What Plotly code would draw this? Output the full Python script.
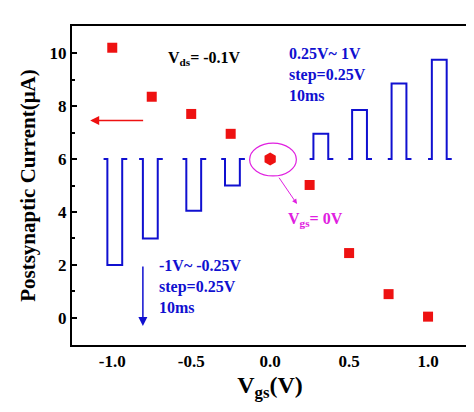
import plotly.graph_objects as go

vgs = [-1.0, -0.75, -0.5, -0.25, 0.25, 0.5, 0.75, 1.0]
current = [10.2, 8.35, 7.7, 6.95, 5.02, 2.45, 0.9, 0.05]
vgs0 = [0.0]
current0 = [6.0]

baseline = 6.0
pulse_starts = [-1.055, -0.83, -0.555, -0.31, 0.25, 0.495, 0.745, 1.0]
pulse_levels = [2.0, 3.0, 4.05, 5.0, 6.95, 7.85, 8.85, 9.75]
lead, width, total = 0.024, 0.094, 0.15

font = "Liberation Serif"
fig = go.Figure()
for s, lv in zip(pulse_starts, pulse_levels):
    xs = [s, s + lead, s + lead, s + lead + width, s + lead + width, s + total]
    ys = [baseline, baseline, lv, lv, baseline, baseline]
    fig.add_trace(go.Scatter(x=xs, y=ys, mode="lines", line=dict(color="#1010d0", width=2),
                             showlegend=False, hoverinfo="skip"))
fig.add_trace(go.Scatter(x=vgs, y=current, mode="markers",
                         marker=dict(symbol="square", size=10, color="#ee1111"), showlegend=False))
fig.add_trace(go.Scatter(x=vgs0, y=current0, mode="markers",
                         marker=dict(symbol="hexagon", size=13, color="#ee1111"), showlegend=False))

fig.add_shape(type="circle", x0=-0.13, x1=0.166, y0=5.36, y1=6.6, line=dict(color="#e020e0", width=1.2))

fig.add_annotation(x=-0.415, y=9.8, text="<b>V<sub>ds</sub>= -0.1V</b>", showarrow=False,
                   font=dict(family=font, size=16, color="black"))
fig.add_annotation(x=0.105, y=9.2, text="<b>0.25V~ 1V<br>step=0.25V<br>10ms</b>", showarrow=False,
                   xanchor="left", align="left", font=dict(family=font, size=16, color="#1010d0"))
fig.add_annotation(x=-0.715, y=1.2, text="<b>-1V~ -0.25V<br>step=0.25V<br>10ms</b>", showarrow=False,
                   xanchor="left", align="left", font=dict(family=font, size=16, color="#1010d0"))
fig.add_annotation(x=0.286, y=3.7, text="<b>V<sub>gs</sub>= 0V</b>", showarrow=False,
                   font=dict(family=font, size=16, color="#e020e0"))
fig.add_annotation(x=-0.806, y=-0.3, ax=-0.806, ay=2.0, xref="x", yref="y", axref="x", ayref="y",
                   text="", showarrow=True, arrowhead=2, arrowsize=1.2, arrowwidth=1.5, arrowcolor="#1010d0")
fig.add_annotation(x=-1.14, y=7.45, ax=-0.795, ay=7.45, xref="x", yref="y", axref="x", ayref="y",
                   text="", showarrow=True, arrowhead=2, arrowsize=1.2, arrowwidth=1.5, arrowcolor="#ee1111")
fig.add_annotation(x=0.17, y=4.3, ax=0.05, ay=5.35, xref="x", yref="y", axref="x", ayref="y",
                   text="", showarrow=True, arrowhead=2, arrowsize=1, arrowwidth=1, arrowcolor="#e020e0")

fig.update_layout(
    width=474, height=412, margin=dict(l=64, r=14, t=18, b=75),
    plot_bgcolor="white", paper_bgcolor="white",
    xaxis=dict(range=[-1.255, 1.253], tickvals=[-1, -0.5, 0, 0.5, 1.0],
               ticktext=["<b>-1.0</b>", "<b>-0.5</b>", "<b>0.0</b>", "<b>0.5</b>", "<b>1.0</b>"],
               showgrid=False, zeroline=False, showline=True, mirror=True, linecolor="black", linewidth=2,
               ticks="", tickfont=dict(family=font, size=17, color="black"),
               title=dict(text="<b>V<sub>gs</sub>(V)</b>", font=dict(family=font, size=24, color="black"), standoff=6)),
    yaxis=dict(range=[-1.02, 11.02], tickvals=[0, 2, 4, 6, 8, 10],
               ticktext=["<b>0</b>", "<b>2</b>", "<b>4</b>", "<b>6</b>", "<b>8</b>", "<b>10</b>"],
               showgrid=False, zeroline=False, showline=True, mirror=True, linecolor="black", linewidth=2,
               ticks="inside", ticklen=5, tickwidth=1.5, tickcolor="black",
               minor=dict(tickvals=[1, 3, 5, 7, 9], ticks="inside", ticklen=3, tickcolor="black"),
               tickfont=dict(family=font, size=17, color="black"),
               title=dict(text="<b>Postsynaptic Current(μA)</b>", font=dict(family=font, size=21, color="black"), standoff=8)),
)
fig.write_html("out.html")
